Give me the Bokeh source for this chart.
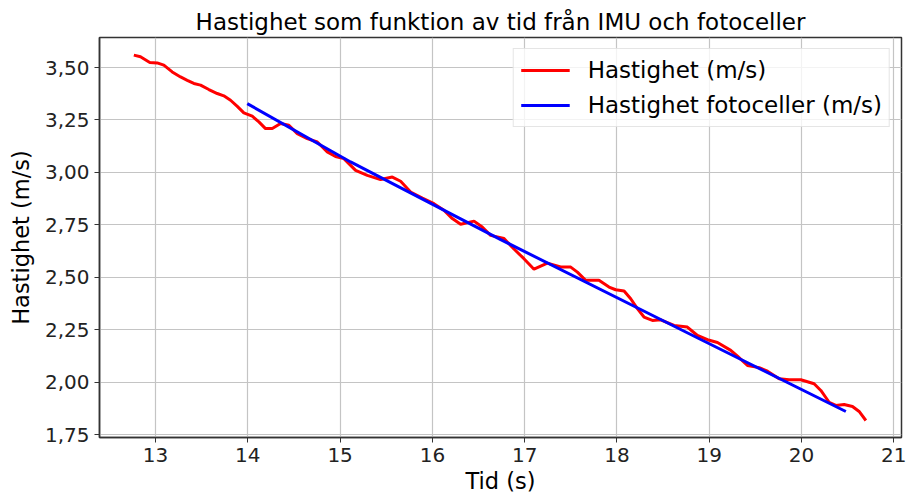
from bokeh.plotting import figure
from bokeh.models import FixedTicker, Range1d, Legend, LegendItem
from bokeh.embed import file_html
from bokeh.resources import INLINE

# IMU speed (red)
tid = [12.765, 12.837, 12.938, 13.018, 13.090, 13.181, 13.271, 13.344, 13.415, 13.488,
       13.578, 13.669, 13.740, 13.813, 13.886, 13.957, 14.048, 14.120, 14.192, 14.265,
       14.355, 14.445, 14.536, 14.644, 14.753, 14.861, 14.950, 15.041, 15.168, 15.295,
       15.439, 15.566, 15.656, 15.764, 15.891, 16.017, 16.125, 16.216, 16.306, 16.451,
       16.540, 16.631, 16.776, 16.884, 16.992, 17.101, 17.246, 17.390, 17.499, 17.571,
       17.661, 17.805, 17.914, 17.986, 18.077, 18.149, 18.221, 18.293, 18.384, 18.474,
       18.619, 18.763, 18.872, 18.981, 19.089, 19.233, 19.306, 19.414, 19.540, 19.631,
       19.757, 19.865, 19.992, 20.136, 20.209, 20.299, 20.371, 20.461, 20.552, 20.624,
       20.697]
hastighet = [3.559, 3.551, 3.524, 3.522, 3.511, 3.479, 3.455, 3.439, 3.424, 3.416,
             3.395, 3.376, 3.365, 3.344, 3.315, 3.284, 3.268, 3.241, 3.209, 3.209,
             3.233, 3.225, 3.185, 3.161, 3.145, 3.098, 3.076, 3.066, 3.010, 2.986,
             2.966, 2.978, 2.958, 2.907, 2.878, 2.851, 2.820, 2.780, 2.753, 2.768,
             2.740, 2.700, 2.685, 2.635, 2.589, 2.539, 2.568, 2.550, 2.549, 2.525,
             2.486, 2.486, 2.454, 2.441, 2.435, 2.398, 2.351, 2.311, 2.295, 2.298,
             2.271, 2.263, 2.223, 2.203, 2.190, 2.152, 2.125, 2.080, 2.070, 2.053,
             2.017, 2.012, 2.012, 1.993, 1.961, 1.905, 1.890, 1.894, 1.885, 1.861,
             1.818]

# Photocell speed (blue)
tid_foto = [13.994, 15.114, 16.740, 18.908, 20.480]
hastighet_foto = [3.328, 3.050, 2.680, 2.204, 1.861]

x_ticks = [13, 14, 15, 16, 17, 18, 19, 20, 21]
y_ticks = [1.75, 2.00, 2.25, 2.50, 2.75, 3.00, 3.25, 3.50]
y_tick_labels = ["1,75", "2,00", "2,25", "2,50", "2,75", "3,00", "3,25", "3,50"]

FONT = "DejaVu Sans"

p = figure(width=906, height=497, output_backend="svg", toolbar_location=None,
           x_range=Range1d(12.393, 21.083), y_range=Range1d(1.737, 3.643),
           min_border_left=99, min_border_right=5, min_border_top=37, min_border_bottom=60,
           title="Hastighet som funktion av tid från IMU och fotoceller")

p.title.align = "center"
p.title.text_font = FONT
p.title.text_font_size = "23px"
p.title.text_font_style = "normal"
p.title.text_color = "#000000"
p.title.standoff = 5

r1 = p.line(tid, hastighet, line_color="#ff0000", line_width=3)
r2 = p.line(tid_foto, hastighet_foto, line_color="#0000ff", line_width=3)

p.xaxis.ticker = FixedTicker(ticks=x_ticks)
p.yaxis.ticker = FixedTicker(ticks=y_ticks)
p.yaxis.major_label_overrides = {t: l for t, l in zip(y_ticks, y_tick_labels)}

p.xaxis.axis_label = "Tid (s)"
p.yaxis.axis_label = "Hastighet (m/s)"

for ax in (p.xaxis, p.yaxis):
    ax.axis_label_text_font = FONT
    ax.axis_label_text_font_size = "22.5px"
    ax.axis_label_text_font_style = "normal"
    ax.axis_label_text_color = "#000000"
    ax.major_label_text_font = FONT
    ax.major_label_text_font_size = "20px"
    ax.major_label_text_color = "#222222"
    ax.major_tick_out = 5
    ax.major_tick_in = 0
    ax.minor_tick_out = 0
    ax.minor_tick_in = 0
    ax.major_tick_line_color = "#333333"
    ax.axis_line_color = "#333333"
    ax.axis_line_width = 1.5
    ax.major_label_standoff = 5

p.xaxis.axis_label_standoff = 3
p.yaxis.axis_label_standoff = 8

p.grid.grid_line_color = "#c4c4c4"
p.grid.grid_line_width = 1.2
p.outline_line_color = "#333333"
p.outline_line_width = 1.5
p.background_fill_color = "white"
p.border_fill_color = "white"

legend = Legend(items=[LegendItem(label="Hastighet (m/s)", renderers=[r1]),
                       LegendItem(label="Hastighet fotoceller (m/s)", renderers=[r2])],
                location="top_right")
legend.label_text_font = FONT
legend.label_text_font_size = "23px"
legend.label_text_color = "#000000"
legend.glyph_width = 49
legend.glyph_height = 28
legend.label_height = 28
legend.spacing = 7
legend.padding = 7
legend.label_standoff = 18
legend.margin = 11
legend.border_line_color = "#cccccc"
legend.border_line_width = 1
legend.background_fill_color = "white"
legend.background_fill_alpha = 0.8
p.add_layout(legend)

open("out.html", "w").write(file_html(p, INLINE))
